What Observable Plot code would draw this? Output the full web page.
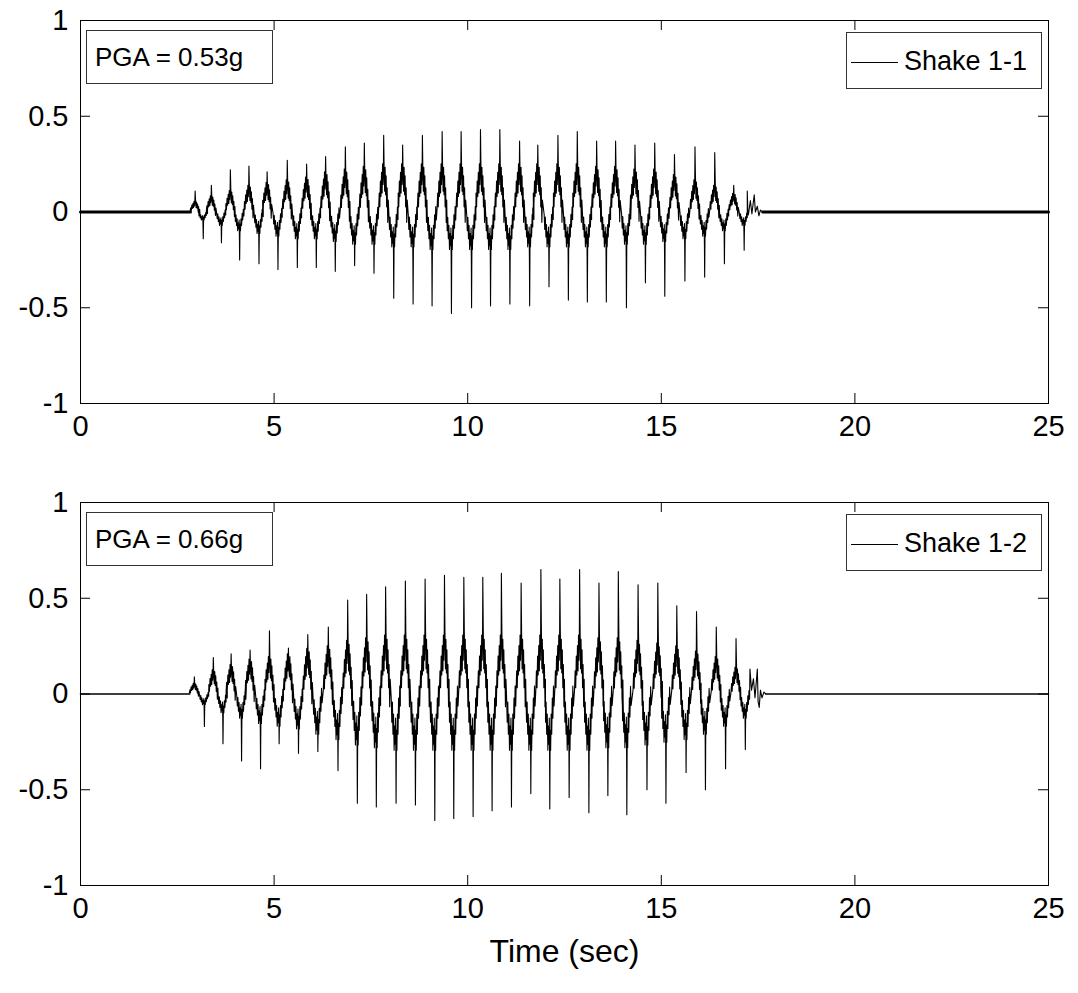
<!DOCTYPE html>
<html><head><meta charset="utf-8">
<script src="https://cdn.jsdelivr.net/npm/d3@7"></script>
<script src="https://cdn.jsdelivr.net/npm/@observablehq/plot@0.6"></script>
<style>
body{margin:0;background:#fff;font-family:"Liberation Sans",Arial,sans-serif;}
#wrap{position:relative;width:1078px;height:993px;overflow:hidden;background:#fff;}
.panel{position:absolute;left:0;}
.box{position:absolute;border:1px solid #333;background:#fff;box-sizing:border-box;font-size:26px;color:#000;white-space:nowrap;line-height:1;}
.box span{position:absolute;}
.sample{position:absolute;height:0;border-top:1px solid #000;}
</style></head><body>
<div id="wrap"></div>
<script>
// ---------- axis ticks ----------
const xTicks = [0, 5, 10, 15, 20, 25];
const yTicks = [-1, -0.5, 0, 0.5, 1];

// ---------- Shake 1-1 (top) : spike times / values ----------
const topPosT = [2.96,3.38,3.87,4.35,4.82,5.34,5.84,6.33,6.84,7.33,7.83,8.32,8.83,9.34,9.83,10.33,10.83,11.34,11.81,12.33,12.83,13.33,13.82,14.32,14.83,15.34,15.87,16.38,16.87];
const topPos  = [0.11,0.14,0.22,0.24,0.21,0.27,0.25,0.29,0.34,0.36,0.40,0.35,0.40,0.42,0.42,0.43,0.43,0.37,0.35,0.40,0.42,0.37,0.37,0.35,0.36,0.30,0.34,0.31,0.14];
const topNegT = [3.17,3.64,4.11,4.61,5.10,5.60,6.09,6.58,7.08,7.58,8.09,8.59,9.08,9.58,10.10,10.59,11.09,11.60,12.10,12.60,13.09,13.58,14.10,14.59,15.09,15.61,16.12,16.63,17.14];
const topNeg  = [-0.14,-0.16,-0.25,-0.27,-0.30,-0.29,-0.29,-0.31,-0.28,-0.32,-0.45,-0.48,-0.49,-0.53,-0.50,-0.49,-0.48,-0.49,-0.39,-0.46,-0.47,-0.47,-0.50,-0.37,-0.44,-0.36,-0.34,-0.27,-0.20];
const topHi   = [0.04,0.06,0.08,0.10,0.11,0.12,0.13,0.15,0.16,0.17,0.18,0.18,0.18,0.18,0.18,0.18,0.18,0.18,0.18,0.18,0.18,0.17,0.17,0.16,0.16,0.14,0.12,0.10,0.07];
const topLo   = [-0.03,-0.05,-0.07,-0.08,-0.09,-0.10,-0.10,-0.11,-0.12,-0.12,-0.13,-0.13,-0.14,-0.14,-0.14,-0.14,-0.14,-0.13,-0.13,-0.13,-0.13,-0.13,-0.12,-0.12,-0.11,-0.10,-0.09,-0.07,-0.05];
const topTail = [[17.22,0.11],[17.26,0.00],[17.30,0.06],[17.34,-0.01],[17.40,0.09],[17.43,0.00],[17.48,0.03],[17.52,-0.02],[17.56,0.01],[17.62,0]];
const topQuiet = [[0,0],[2.84,0]];
const topQuietEnd = [[17.62,0],[25,0]];

// ---------- Shake 1-2 (bottom) ----------
const botPosT = [2.94,3.43,3.89,4.38,4.88,5.37,5.87,6.40,6.90,7.39,7.88,8.39,8.90,9.40,9.90,10.39,10.87,11.38,11.89,12.38,12.89,13.39,13.89,14.40,14.91,15.40,15.91,16.42,16.93];
const botPos  = [0.09,0.19,0.21,0.23,0.33,0.24,0.31,0.35,0.49,0.52,0.56,0.59,0.60,0.62,0.61,0.61,0.63,0.58,0.65,0.60,0.65,0.58,0.64,0.57,0.58,0.46,0.43,0.35,0.29];
const botNegT = [3.20,3.68,4.16,4.65,5.13,5.63,6.13,6.65,7.15,7.64,8.15,8.65,9.15,9.64,10.14,10.63,11.13,11.63,12.12,12.62,13.13,13.62,14.11,14.63,15.12,15.64,16.14,16.66,17.17];
const botNeg  = [-0.17,-0.26,-0.35,-0.39,-0.26,-0.31,-0.30,-0.40,-0.57,-0.59,-0.57,-0.58,-0.66,-0.65,-0.64,-0.61,-0.59,-0.52,-0.60,-0.54,-0.62,-0.53,-0.63,-0.50,-0.57,-0.41,-0.50,-0.39,-0.29];
const botHi   = [0.04,0.09,0.11,0.13,0.14,0.15,0.17,0.18,0.20,0.21,0.22,0.22,0.22,0.22,0.22,0.22,0.22,0.22,0.22,0.22,0.22,0.21,0.21,0.20,0.19,0.18,0.16,0.14,0.10];
const botLo   = [-0.04,-0.07,-0.09,-0.11,-0.12,-0.13,-0.15,-0.17,-0.19,-0.20,-0.21,-0.21,-0.21,-0.21,-0.21,-0.21,-0.21,-0.21,-0.21,-0.21,-0.21,-0.20,-0.20,-0.19,-0.18,-0.17,-0.15,-0.12,-0.09];
const botTail = [[17.29,0.13],[17.33,0.02],[17.38,0.08],[17.42,-0.02],[17.48,0.13],[17.50,-0.04],[17.53,-0.07],[17.56,0.02],[17.60,-0.02],[17.65,0.01],[17.70,0]];
const botQuiet = [[0,0],[2.82,0]];
const botQuietEnd = [[17.70,0],[25,0]];

// ---------- jagged outline around each crest / trough (offset s, fraction of body level) ----------
const crestPre  = [[-0.13,0.1],[-0.115,0.55],[-0.10,0.15],[-0.085,0.9],[-0.07,0.45],[-0.055,1.15],[-0.04,0.55],[-0.028,1.4],[-0.016,0.8],[-0.007,1.2]];
const crestEcho = [[0.012,0.55]];   // fraction of the crest spike
const crestPost = [[0.025,0.6],[0.037,1.3],[0.05,0.5],[0.063,1.05],[0.077,0.15],[0.09,0.7],[0.105,-0.3],[0.118,0.35]];
const troughPre = [[-0.125,0.1],[-0.11,0.7],[-0.095,0.2],[-0.08,1.0],[-0.065,0.5],[-0.05,1.4],[-0.035,0.8],[-0.022,1.25],[-0.013,0.6]];
const troughEcho = [[-0.006,0.5]];  // fraction of the trough spike
const troughPost= [[0.01,0.9],[0.022,1.4],[0.035,0.5],[0.05,1.0],[0.065,0.1],[0.08,0.6],[0.095,-0.2],[0.11,0.3]];

function build(posT, pos, negT, neg, hi, lo, tail) {
  const pts = [];
  for (let i = 0; i < posT.length; i++) {
    for (const [dt, f] of crestPre) pts.push({t: posT[i] + dt, v: hi[i] * f});
    pts.push({t: posT[i], v: pos[i]});
    for (const [dt, f] of crestEcho) pts.push({t: posT[i] + dt, v: pos[i] * f});
    for (const [dt, f] of crestPost) pts.push({t: posT[i] + dt, v: hi[i] * f});
    if (i < negT.length) {
      for (const [dt, f] of troughPre) pts.push({t: negT[i] + dt, v: lo[i] * f});
      for (const [dt, f] of troughEcho) pts.push({t: negT[i] + dt, v: neg[i] * f});
      pts.push({t: negT[i], v: neg[i]});
      for (const [dt, f] of troughPost) pts.push({t: negT[i] + dt, v: lo[i] * f});
    }
  }
  for (const [t, v] of tail) pts.push({t, v});
  pts.sort((a, b) => a.t - b.t);
  return pts;
}

const FONT = "'Liberation Sans', Arial, Helvetica, sans-serif";

function panel(series, quiet, quietEnd, quietWidth, height, marginBottom, extra) {
  const q = [quiet, quietEnd].flatMap((seg, k) => seg.map(([t, v]) => ({t, v, k})));
  return Plot.plot({
    width: 1078, height, marginTop: 20, marginBottom, marginLeft: 80, marginRight: 30,
    x: {domain: [0, 25]}, y: {domain: [-1, 1]},
    style: {fontFamily: FONT, background: "white", overflow: "visible", color: "black"},
    marks: [
      Plot.line(q, {x: "t", y: "v", z: "k", stroke: "#000", strokeWidth: quietWidth}),
      Plot.line(series, {x: "t", y: "v", stroke: "#000", strokeWidth: 1.1}),
      Plot.frame({stroke: "#000", strokeWidth: 1}),
      Plot.tickX(xTicks, {x: d => d, insetTop: 373, stroke: "#000"}),
      Plot.tickX(xTicks, {x: d => d, insetBottom: 373, stroke: "#000"}),
      Plot.tickY(yTicks, {y: d => d, insetRight: 958, stroke: "#000"}),
      Plot.tickY(yTicks, {y: d => d, insetLeft: 958, stroke: "#000"}),
      Plot.axisX({ticks: xTicks, tickSize: 0, tickPadding: 12, tickFormat: d => String(d), fontSize: 29, label: null}),
      Plot.axisY({ticks: yTicks, tickSize: 0, tickPadding: 12, tickFormat: d => String(d), fontSize: 29, label: null}),
      ...extra
    ]
  });
}

const wrap = document.getElementById("wrap");

const topSvg = panel(build(topPosT, topPos, topNegT, topNeg, topHi, topLo, topTail), topQuiet, topQuietEnd, 3, 482, 79, []);
const botSvg = panel(build(botPosT, botPos, botNegT, botNeg, botHi, botLo, botTail), botQuiet, botQuietEnd, 1.6, 511, 108,
  [Plot.text(["Time (sec)"], {text: d => d, frameAnchor: "bottom", dy: 66, lineAnchor: "middle", fontSize: 32, fill: "#000"})]);

const d1 = document.createElement("div"); d1.className = "panel"; d1.style.top = "0px"; d1.appendChild(topSvg); wrap.appendChild(d1);
const d2 = document.createElement("div"); d2.className = "panel"; d2.style.top = "482px"; d2.appendChild(botSvg); wrap.appendChild(d2);

// ---------- annotation and legend boxes ----------
const notes = ["PGA = 0.53g", "PGA = 0.66g"];
const names = ["Shake 1-1", "Shake 1-2"];
[0, 482].forEach((off, i) => {
  const a = document.createElement("div");
  a.className = "box";
  Object.assign(a.style, {left: "86px", top: (30 + off) + "px", width: "187px", height: "54px"});
  const s = document.createElement("span"); s.textContent = notes[i];
  Object.assign(s.style, {left: "8px", top: "13px"});
  a.appendChild(s); wrap.appendChild(a);

  const l = document.createElement("div");
  l.className = "box";
  Object.assign(l.style, {left: "846px", top: (32 + off) + "px", width: "196px", height: "57px"});
  const ln = document.createElement("div"); ln.className = "sample";
  Object.assign(ln.style, {left: "4px", width: "47px", top: "29px"});
  const t = document.createElement("span"); t.textContent = names[i];
  Object.assign(t.style, {left: "57px", top: "15px", fontSize: "27px"});
  l.appendChild(ln); l.appendChild(t); wrap.appendChild(l);
});
</script></body></html>
